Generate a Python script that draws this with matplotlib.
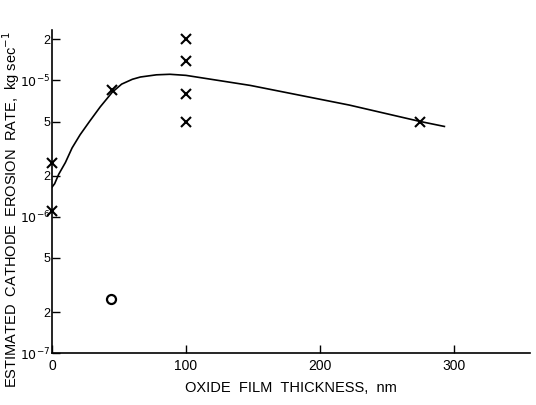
import matplotlib
matplotlib.use("Agg")
import matplotlib.pyplot as plt

plt.rcParams['font.family'] = ['Liberation Sans', 'DejaVu Sans']

# measured points (crosses)
x_cross = [0, 0, 45, 100, 100, 100, 100, 275]
y_cross = [2.5e-6, 1.1e-6, 8.5e-6, 2.0e-5, 1.4e-5, 8.0e-6, 5.0e-6, 5.0e-6]

# open circle point
x_circle = [44]
y_circle = [2.5e-7]

# fitted curve
x_curve = [0, 2, 5, 10, 15, 21, 28, 36, 45, 52, 60, 66, 78, 88, 100, 148, 222, 275, 293]
y_curve = [1.65e-6, 1.75e-6, 2.05e-6, 2.5e-6, 3.2e-6, 4.0e-6, 5.0e-6, 6.4e-6, 8.2e-6,
           9.4e-6, 1.02e-5, 1.06e-5, 1.10e-5, 1.11e-5, 1.09e-5, 9.2e-6, 6.6e-6, 5.0e-6, 4.6e-6]

y_ticks = [1e-7, 2e-7, 5e-7, 1e-6, 2e-6, 5e-6, 1e-5, 2e-5]
y_ticklabels = ["$10^{-7}$", "2", "5", "$10^{-6}$", "2", "5", "$10^{-5}$", "2"]
x_ticks = [0, 100, 200, 300]

fig = plt.figure(figsize=(5.36, 4.05), dpi=100)
ax = fig.add_axes([0.097, 0.128, 0.892, 0.797])

ax.plot(x_curve, y_curve, color="black", lw=1.2)
ax.plot(x_cross, y_cross, "x", color="black", ms=7, mew=1.5, clip_on=False)
ax.plot(x_circle, y_circle, "o", mfc="none", mec="black", ms=6.5, mew=1.6)

ax.set_yscale("log")
ax.set_ylim(1e-7, 2.33e-5)
ax.set_xlim(0, 357)

ax.set_yticks(y_ticks)
ax.set_yticklabels(y_ticklabels)
ax.minorticks_off()
ax.set_xticks(x_ticks)
ax.set_xticklabels([str(t) for t in x_ticks])
ax.tick_params(direction="in", length=6, width=1.0, labelsize=10)
ax.tick_params(axis="x", pad=4)
ax.tick_params(axis="y", labelsize=9, pad=1)

for s in ["top", "right"]:
    ax.spines[s].set_visible(False)
for s in ["left", "bottom"]:
    ax.spines[s].set_linewidth(1.2)

ax.set_xlabel("OXIDE  FILM  THICKNESS,  nm", fontsize=10.5, labelpad=6)
fig.text(11 / 536, 1 - 210 / 405, "ESTIMATED  CATHODE  EROSION  RATE,  kg sec$^{-1}$",
         rotation=90, ha="center", va="center", fontsize=10.5)

fig.savefig("out.png", dpi=100)
